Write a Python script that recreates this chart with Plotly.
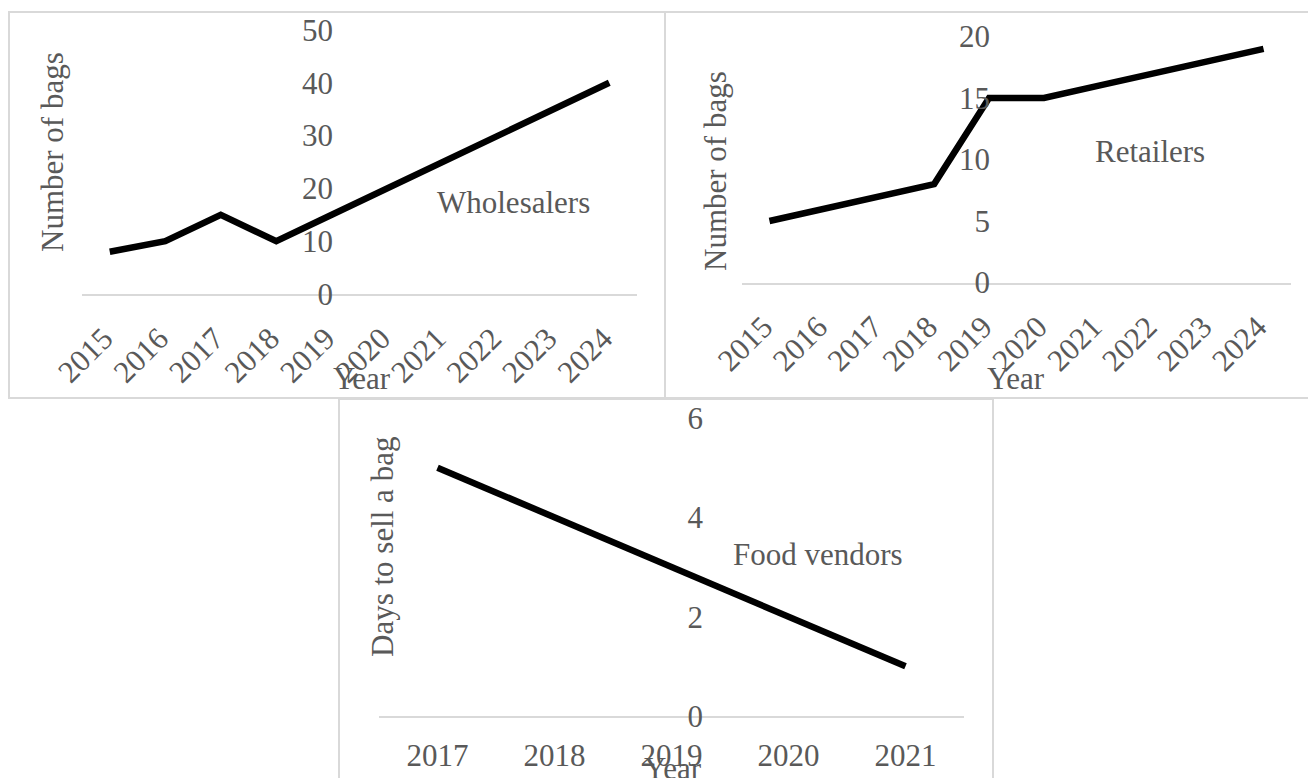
import plotly.graph_objects as go

# ---- data ----
years_a = ["2015", "2016", "2017", "2018", "2019", "2020", "2021", "2022", "2023", "2024"]
wholesalers = [8, 10, 15, 10, 15, 20, 25, 30, 35, 40]
retailers = [5, 6, 7, 8, 15, 15, 16, 17, 18, 19]
years_b = ["2017", "2018", "2019", "2020", "2021"]
food_vendors = [5, 4, 3, 2, 1]

W, H = 1308, 778
FONT = "Liberation Serif"
GREY = "#595959"
BORDER = "#d9d9d9"
FS = 31
LW = 6.5


def px(x):
    return x / W


def py(y):
    return 1 - y / H


fig = go.Figure()

fig.add_trace(go.Scatter(x=years_a, y=wholesalers, mode="lines",
                         line=dict(color="black", width=LW),
                         xaxis="x", yaxis="y", showlegend=False))
fig.add_trace(go.Scatter(x=years_a, y=retailers, mode="lines",
                         line=dict(color="black", width=LW),
                         xaxis="x2", yaxis="y2", showlegend=False))
fig.add_trace(go.Scatter(x=years_b, y=food_vendors, mode="lines",
                         line=dict(color="black", width=LW),
                         xaxis="x3", yaxis="y3", showlegend=False))

tickfont = dict(family=FONT, size=FS, color=GREY)


def xax(domain, anchor, n, angle, standoff, shift):
    return dict(domain=[px(domain[0]), px(domain[1])], anchor=anchor,
                type="category", range=[-0.5, n - 0.5],
                showline=True, linecolor=BORDER, linewidth=2,
                showgrid=False, zeroline=False, ticks="",
                tickangle=angle, tickfont=tickfont,
                ticklabelstandoff=standoff, ticklabelshift=shift,
                automargin=False, fixedrange=True)


def yax(domain, pos, rng, dtick):
    return dict(domain=[py(domain[1]), py(domain[0])], anchor="free",
                position=px(pos), range=rng, dtick=dtick,
                showline=False, showgrid=False, zeroline=False, ticks="",
                tickfont=tickfont, automargin=False, fixedrange=True)


fig.update_layout(
    width=W, height=H, autosize=False,
    margin=dict(l=0, r=0, t=0, b=0, pad=0, autoexpand=False),
    paper_bgcolor="white", plot_bgcolor="rgba(0,0,0,0)",
    xaxis=xax((82, 637), "y", len(years_a), -45, 12, -6),
    yaxis=yax((30, 294), 333, [0, 50], 10),
    xaxis2=xax((742, 1291), "y2", len(years_a), -45, 12, -6),
    yaxis2=yax((36.5, 282.5), 990, [0, 20], 5),
    xaxis3=xax((379, 964), "y3", len(years_b), 0, 11, 0),
    yaxis3=yax((418, 716), 703, [0, 6], 2),
)

# panel borders
for (x0, y0, x1, y1) in [(9, 12, 665, 398), (665, 12, 1320, 398), (339, 399, 993, 800)]:
    fig.add_shape(type="rect", xref="paper", yref="paper",
                  x0=px(x0), x1=px(x1), y0=py(y1), y1=py(y0),
                  line=dict(color=BORDER, width=2), fillcolor="rgba(0,0,0,0)",
                  layer="below")

afont = dict(family=FONT, size=FS, color=GREY)


def ann(text, x, y, xanchor="center", angle=0):
    fig.add_annotation(text=text, xref="paper", yref="paper", x=px(x), y=py(y),
                       xanchor=xanchor, yanchor="middle", showarrow=False,
                       textangle=angle, font=afont)


# axis titles
ann("Number of bags", 53, 152, angle=-90)
ann("Number of bags", 715, 171, angle=-90)
ann("Days to sell a bag", 382, 547, angle=-90)
ann("Year", 362, 378)
ann("Year", 1016, 378)
ann("Year", 673, 768)

# series labels
ann("Wholesalers", 435, 203, xanchor="left")
ann("Retailers", 1093, 152, xanchor="left")
ann("Food vendors", 731, 554, xanchor="left")

fig.write_html("out.html")
